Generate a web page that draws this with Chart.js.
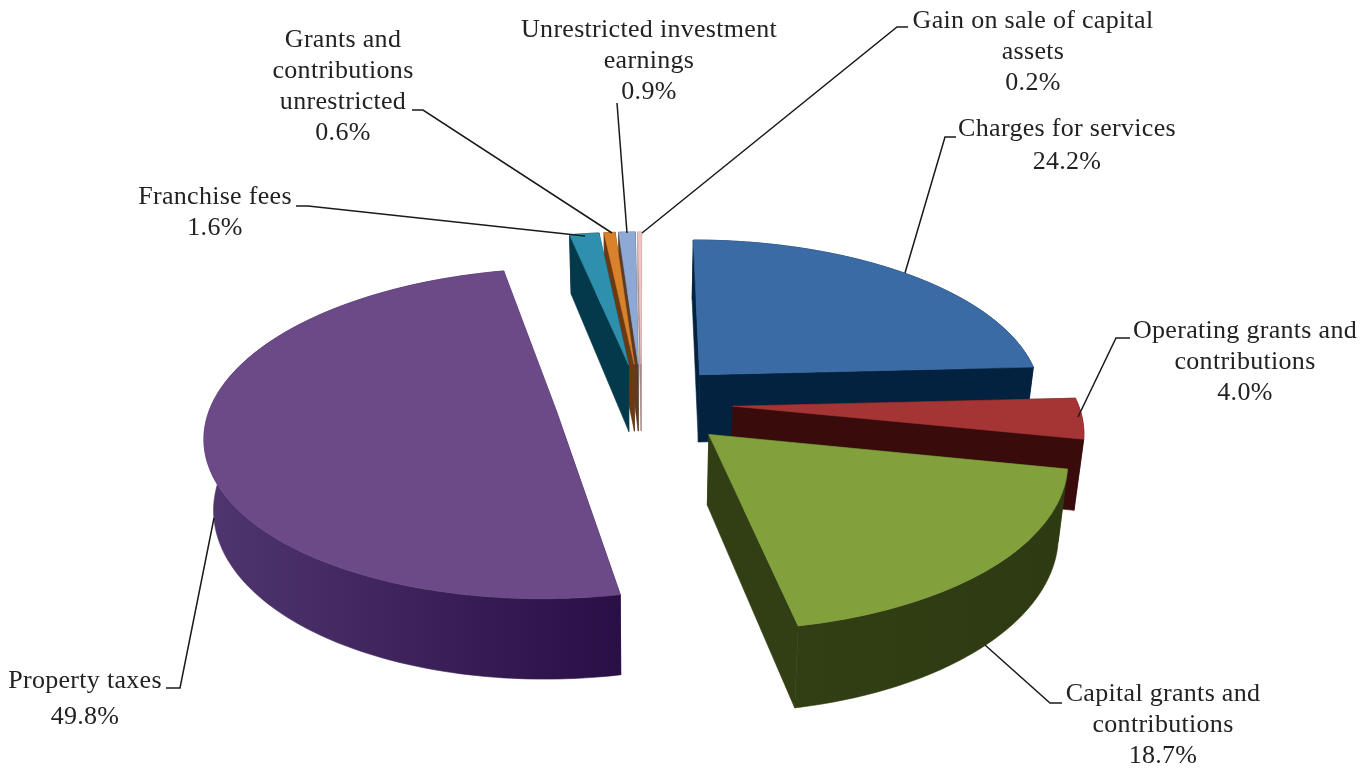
<!DOCTYPE html>
<html>
<head>
<meta charset="utf-8">
<title>Revenues by source</title>
<script src="https://cdn.jsdelivr.net/npm/chart.js@4"></script>
<style>
	html, body { margin: 0; padding: 0; background: #fff; }
	canvas { display: block; }
</style>
</head>
<body>
<canvas id="revenuePie" width="1371" height="768"></canvas>
<script>
var categories = [
	'Charges for services',
	'Operating grants and contributions',
	'Capital grants and contributions',
	'Property taxes',
	'Franchise fees',
	'Grants and contributions unrestricted',
	'Unrestricted investment earnings',
	'Gain on sale of capital assets'
];
var shares = [24.2, 4.0, 18.7, 49.8, 1.6, 0.6, 0.9, 0.2];

var topColors = ['#3a6ba5', '#a53535', '#82a03c', '#6b4a87', '#2e90ac', '#d9822b', '#8fa9d6', '#ecc4c2'];
var sideColors = [
	['#03223f', '#03223f'],
	['#3a0b0b', '#3a0b0b'],
	['#323f14', '#2e3a12'],
	['#50366f', '#2a0e46'],
	['#03394a', '#03394a'],
	['#6b3a12', '#6b3a12'],
	['#5a3c28', '#5a3c28'],
	['#a58a88', '#a58a88']
];
// how far each slice is pulled out, in pie radii
var explode = [0.25, 0.265, 0.27, 0.25, 0.25, 0.25, 0.25, 0.25];

// wrapped label text, the percentage line is added from shares
var labelLines = [
	['Charges for services'],
	['Operating grants and', 'contributions'],
	['Capital grants and', 'contributions'],
	['Property taxes'],
	['Franchise fees'],
	['Grants and', 'contributions', 'unrestricted'],
	['Unrestricted investment', 'earnings'],
	['Gain on sale of capital', 'assets']
];
var labelCenterX = [1067, 1245, 1163, 85, 215, 343, 649, 1033];
var labelFirstY = [129, 331, 694, 681, 197, 40, 30, 21];
var labelLeading = [33, 31, 31, 36, 31, 31, 31, 31];
var leaders = [
	[[956, 137], [945, 137], [905, 273]],
	[[1130, 338], [1116, 338], [1078, 417]],
	[[1062, 703], [1050, 703], [985, 645]],
	[[166, 688], [180, 688], [214, 518]],
	[[296, 206], [308, 206], [585, 236]],
	[[412, 110], [423, 110], [612, 233]],
	[[617, 103], [627, 233]],
	[[908, 27], [897, 27], [642, 233]]
];

// tilted view of the pie: perspective on the plane, extrusion downwards
var view = {
	originX: 641.5, originY: 403,
	radiusX: 345, radiusY: 160,
	perspective: 0.135, skew: 0.5,
	depth: 69, taper: 0.022
};
var OFFSET_UNIT = 100;

function toScreen(px, py, z) {
	var s = 1 / (1 - view.perspective * py);
	var sx = (px * view.radiusX - view.skew * py) * s * (1 - z * view.taper);
	return { x: view.originX + sx, y: view.originY + py * view.radiusY * s + z * view.depth * s };
}

function sliceGeometry(arc) {
	var mid = (arc.startAngle + arc.endAngle) / 2;
	var pull = arc.options.offset / OFFSET_UNIT;
	var ax = Math.cos(mid) * pull;
	var ay = Math.sin(mid) * pull;
	var rim = [];
	var steps = Math.max(2, Math.ceil((arc.endAngle - arc.startAngle) / 0.02));
	for (var i = 0; i <= steps; i++) {
		var a = arc.startAngle + (arc.endAngle - arc.startAngle) * i / steps;
		rim.push([ax + Math.cos(a), ay + Math.sin(a)]);
	}
	return { apex: [ax, ay], rim: rim };
}

function fillPoly(ctx, pts, fill) {
	ctx.beginPath();
	pts.forEach(function (p, i) {
		if (i == 0) ctx.moveTo(p.x, p.y);
		else ctx.lineTo(p.x, p.y);
	});
	ctx.closePath();
	ctx.fillStyle = fill;
	ctx.strokeStyle = fill;
	ctx.lineWidth = 0.6;
	ctx.fill();
	ctx.stroke();
}

function drawSlice(ctx, arc, index) {
	var g = sliceGeometry(arc);
	var top = function (p) { return toScreen(p[0], p[1], 0); };
	var bottom = function (p) { return toScreen(p[0], p[1], 1); };
	var first = g.rim[0];
	var last = g.rim[g.rim.length - 1];
	var side = sideColors[index];

	// the two cut faces, then the outer wall, then the flat top
	fillPoly(ctx, [top(g.apex), top(first), bottom(first), bottom(g.apex)], side[1]);
	fillPoly(ctx, [top(g.apex), top(last), bottom(last), bottom(g.apex)], side[0]);

	var wall = g.rim.map(top).concat(g.rim.slice().reverse().map(bottom));
	var xs = wall.map(function (p) { return p.x; });
	var grad = ctx.createLinearGradient(Math.min.apply(null, xs), 0, Math.max.apply(null, xs), 0);
	grad.addColorStop(0, side[0]);
	grad.addColorStop(1, side[1]);
	fillPoly(ctx, wall, grad);

	fillPoly(ctx, [top(g.apex)].concat(g.rim.map(top)), topColors[index]);
}

var tiltedPie = {
	id: 'tiltedPie',
	beforeDatasetDraw: function (chart, args) {
		var ctx = chart.ctx;
		var arcs = chart.getDatasetMeta(args.index).data;
		var order = arcs.map(function (arc, i) {
			var g = sliceGeometry(arc);
			return { i: i, y: toScreen(g.apex[0], g.apex[1], 0).y };
		}).sort(function (a, b) { return a.y - b.y; });
		ctx.save();
		order.forEach(function (o) { drawSlice(ctx, arcs[o.i], o.i); });
		ctx.restore();
		return false;
	},
	afterDatasetsDraw: function (chart) {
		var ctx = chart.ctx;
		ctx.save();
		ctx.strokeStyle = '#1a1a1a';
		ctx.lineWidth = 1.5;
		leaders.forEach(function (pts) {
			ctx.beginPath();
			pts.forEach(function (p, i) {
				if (i == 0) ctx.moveTo(p[0], p[1]);
				else ctx.lineTo(p[0], p[1]);
			});
			ctx.stroke();
		});
		ctx.font = '26px "Liberation Serif"';
		ctx.letterSpacing = '0.3px';
		ctx.fillStyle = '#222';
		ctx.textAlign = 'center';
		ctx.textBaseline = 'middle';
		labelLines.forEach(function (lines, i) {
			var all = lines.concat([shares[i].toFixed(1) + '%']);
			all.forEach(function (text, n) {
				ctx.fillText(text, labelCenterX[i], labelFirstY[i] + n * labelLeading[i]);
			});
		});
		ctx.restore();
	}
};

new Chart(document.getElementById('revenuePie').getContext('2d'), {
	type: 'pie',
	data: {
		labels: categories,
		datasets: [{
			data: shares,
			backgroundColor: topColors,
			borderWidth: 0,
			offset: explode.map(function (e) { return e * OFFSET_UNIT; })
		}]
	},
	options: {
		responsive: false,
		animation: false,
		radius: 100,
		plugins: {
			legend: { display: false },
			tooltip: { enabled: false }
		}
	},
	plugins: [tiltedPie]
});
</script>
</body>
</html>
